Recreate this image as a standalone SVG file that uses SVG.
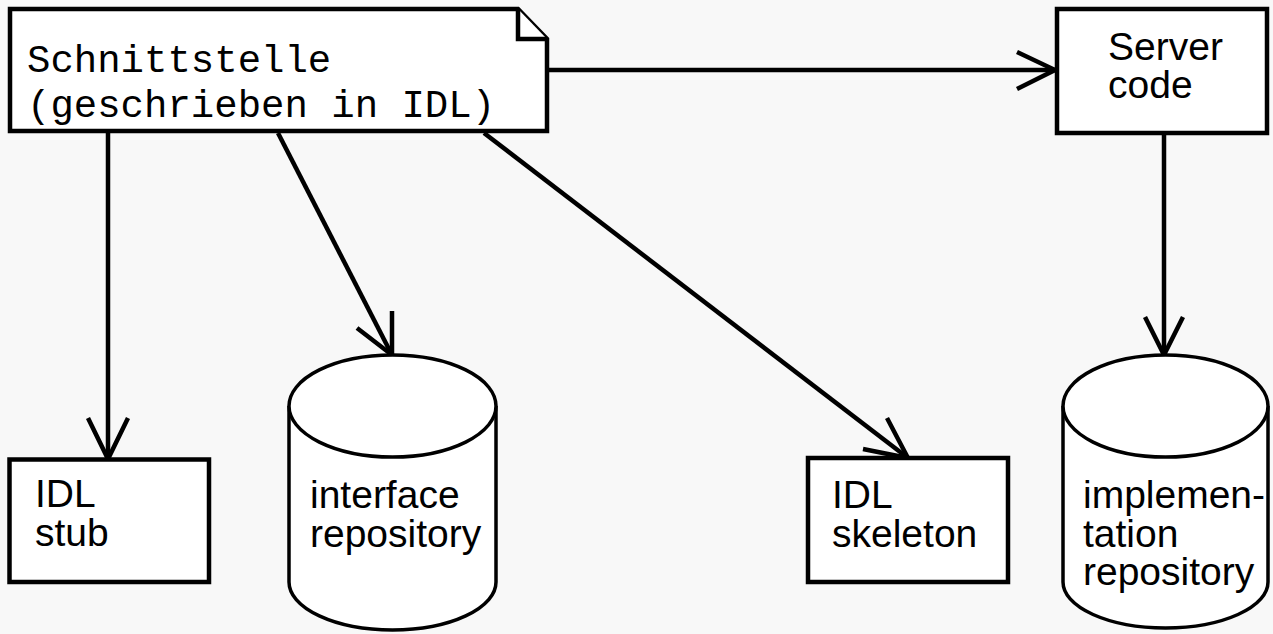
<svg xmlns="http://www.w3.org/2000/svg" width="1273" height="634" viewBox="0 0 1273 634">
  <defs>
    <style>
      .box { fill: #ffffff; stroke: #000000; stroke-width: 4.5; }
      .db { fill: #ffffff; stroke: #000000; stroke-width: 3.5; }
      .edge { fill: none; stroke: #000000; stroke-width: 4.5; }
      .head { fill: none; stroke: #000000; stroke-width: 4.5; stroke-linejoin: miter; }
      .sans { font-family: "Liberation Sans", Arial, sans-serif; font-size: 39px; fill: #000000; }
      .mono { font-family: "Liberation Mono", "Courier New", monospace; font-size: 39px; fill: #000000; }
    </style>
  </defs>
  <rect x="0" y="0" width="1273" height="634" fill="#f8f8f8"/>

  <!-- connectors -->
  <g id="connectors">
    <!-- note -> server code -->
    <line class="edge" x1="548" y1="70" x2="1055" y2="70"/>
    <polyline class="head" points="1017,52 1055,70 1017,89"/>
    <!-- note -> IDL stub -->
    <line class="edge" x1="108" y1="133" x2="108" y2="459"/>
    <polyline class="head" points="88,418 108,459 128,418"/>
    <!-- note -> interface repository -->
    <line class="edge" x1="278" y1="133" x2="392" y2="355"/>
    <polyline class="head" points="357,328 392,355 392,311"/>
    <!-- note -> IDL skeleton -->
    <line class="edge" x1="484" y1="133" x2="908" y2="458"/>
    <polyline class="head" points="863,449 908,458 887,418"/>
    <!-- server code -> implementation repository -->
    <line class="edge" x1="1164" y1="133" x2="1164" y2="355"/>
    <polyline class="head" points="1145,317 1164,355 1183,317"/>
  </g>

  <!-- interface definition note with folded corner -->
  <g id="note">
    <path class="box" d="M10,9 H518 L547,39 V131 H10 Z"/>
    <path class="box" d="M518,9 V39 H547" fill="none"/>
    <text class="mono" x="27" y="72">Schnittstelle</text>
    <text class="mono" x="27" y="117">(geschrieben in IDL)</text>
  </g>

  <g id="server">
    <rect class="box" x="1057" y="9" width="210" height="124"/>
    <text class="sans" x="1108" y="60">Server</text>
    <text class="sans" x="1108" y="98">code</text>
  </g>

  <g id="stub">
    <rect class="box" x="9.5" y="459.5" width="199.5" height="122.5"/>
    <text class="sans" x="35" y="507">IDL</text>
    <text class="sans" x="35" y="546">stub</text>
  </g>

  <g id="ifrepo">
    <path class="db" d="M289,406 V582 A103.5,48 0 0 0 496,582 V406 A103.5,51 0 0 0 289,406 Z"/>
    <path class="db" d="M289,406 A103.5,51 0 0 0 496,406" fill="none"/>
    <text class="sans" x="310" y="508">interface</text>
    <text class="sans" x="310" y="547">repository</text>
  </g>

  <g id="skeleton">
    <rect class="box" x="808" y="458" width="200" height="124"/>
    <text class="sans" x="832" y="508">IDL</text>
    <text class="sans" x="832" y="547">skeleton</text>
  </g>

  <g id="implrepo">
    <path class="db" d="M1063,406 V582 A102.5,46 0 0 0 1268,582 V406 A102.5,51 0 0 0 1063,406 Z"/>
    <path class="db" d="M1063,406 A102.5,51 0 0 0 1268,406" fill="none"/>
    <text class="sans" x="1083" y="508">implemen-</text>
    <text class="sans" x="1083" y="547">tation</text>
    <text class="sans" x="1083" y="585">repository</text>
  </g>
</svg>
